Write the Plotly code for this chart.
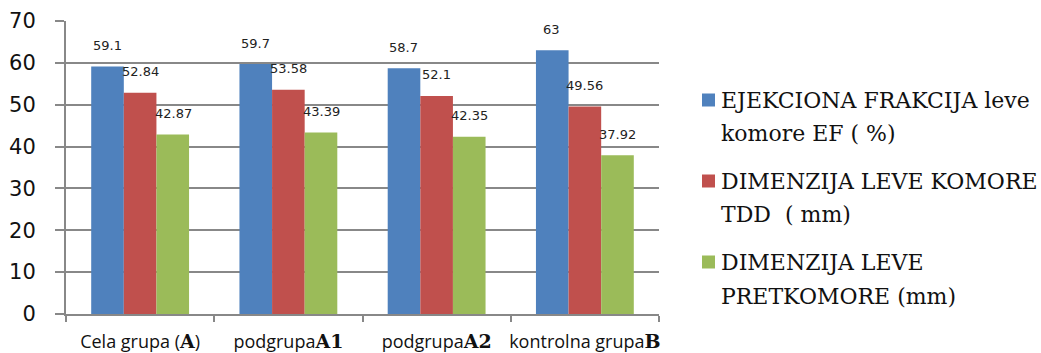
import plotly.graph_objects as go

# Groups on the x axis (sans-serif name plus a bold serif group letter)
group_names = ["Cela grupa (", "podgrupa", "podgrupa", "kontrolna grupa"]
group_letters = ["A", "A1", "A2", "B"]
group_suffix = [")", "", "", ""]
categories = ["A", "A1", "A2", "B"]

# Series captions, one entry per caption line
series_lines = [
    ["EJEKCIONA FRAKCIJA leve", "komore EF ( %)"],
    ["DIMENZIJA LEVE KOMORE", "TDD  ( mm)"],
    ["DIMENZIJA LEVE", "PRETKOMORE (mm)"],
]
ef_values = [59.1, 59.7, 58.7, 63]
tdd_values = [52.84, 53.58, 52.1, 49.56]
atrium_values = [42.87, 43.39, 42.35, 37.92]
series_values = [ef_values, tdd_values, atrium_values]
series_colors = ["#4F81BD", "#C0504D", "#9BBB59"]

y_ticks = [0, 10, 20, 30, 40, 50, 60, 70]

SERIF = "DejaVu Serif"
letter_style = f"font-family:'{SERIF}';font-weight:bold;font-size:19px"
tick_text = [
    f"{n}<span style=\"{letter_style}\">{l}</span>{s}"
    for n, l, s in zip(group_names, group_letters, group_suffix)
]

W, H = 1041, 353
M_L, M_R, M_T, M_B = 66, 382, 21, 39
plot_w = W - M_L - M_R
plot_h = H - M_T - M_B


def px_to_paper(px, py):
    return (px - M_L) / plot_w, (H - M_B - py) / plot_h


fig = go.Figure()
for lines, vals, col in zip(series_lines, series_values, series_colors):
    fig.add_trace(go.Bar(
        x=categories, y=vals, name=" ".join(lines), showlegend=False,
        marker=dict(color=col, line=dict(width=0)),
    ))

# Value labels sitting above each bar
bar_px = 33
offsets = [-bar_px, 0, bar_px]
for vals, dx in zip(series_values, offsets):
    for c, v in zip(categories, vals):
        fig.add_annotation(
            x=c, y=v, text=f"{v:g}", showarrow=False,
            xshift=dx, yshift=21, yanchor="middle",
            font=dict(family="DejaVu Sans", size=13, color="#222222"),
        )

# Key on the right: colour square + two-line serif caption per series
key_line_y = [[100, 133], [181, 214], [262, 296]]
swatch_x0, swatch_size, text_x = 702, 13, 719
for lines, col, ys in zip(series_lines, series_colors, key_line_y):
    cy = ys[0]
    sx0, sy0 = px_to_paper(swatch_x0, cy + swatch_size / 2)
    sx1, sy1 = px_to_paper(swatch_x0 + swatch_size, cy - swatch_size / 2)
    fig.add_shape(type="rect", xref="paper", yref="paper",
                  x0=sx0, x1=sx1, y0=sy0, y1=sy1,
                  fillcolor=col, line=dict(width=0))
    for line, ly in zip(lines, ys):
        tx, ty = px_to_paper(text_x, ly)
        fig.add_annotation(
            xref="paper", yref="paper", x=tx, y=ty, text=line,
            showarrow=False, xanchor="left", yanchor="middle", align="left",
            font=dict(family=SERIF, size=22, color="#111111"),
        )

fig.update_layout(
    width=W, height=H,
    margin=dict(l=M_L, r=M_R, t=M_T, b=M_B, autoexpand=False),
    paper_bgcolor="white", plot_bgcolor="white",
    barmode="group", bargap=0.34, bargroupgap=0,
    showlegend=False,
    xaxis=dict(
        tickmode="array", tickvals=categories, ticktext=tick_text,
        tickson="boundaries", ticks="outside", ticklen=6, tickcolor="#888888", tickwidth=2,
        showline=True, linecolor="#888888", linewidth=2,
        tickfont=dict(family="Open Sans", size=18, color="#111111"),
        tickangle=0, automargin=False,
        ticklabelstandoff=10,
        showgrid=False,
    ),
    yaxis=dict(
        range=[0, 70], tickvals=y_ticks,
        ticks="outside", ticklen=9, tickcolor="#888888", tickwidth=2,
        showline=True, linecolor="#888888", linewidth=2,
        showgrid=True, gridcolor="#888888", gridwidth=2,
        zeroline=False, automargin=False,
        tickfont=dict(family="DejaVu Sans", size=21, color="#111111"),
        ticklabelstandoff=15,
    ),
)

fig.write_html("out.html")
